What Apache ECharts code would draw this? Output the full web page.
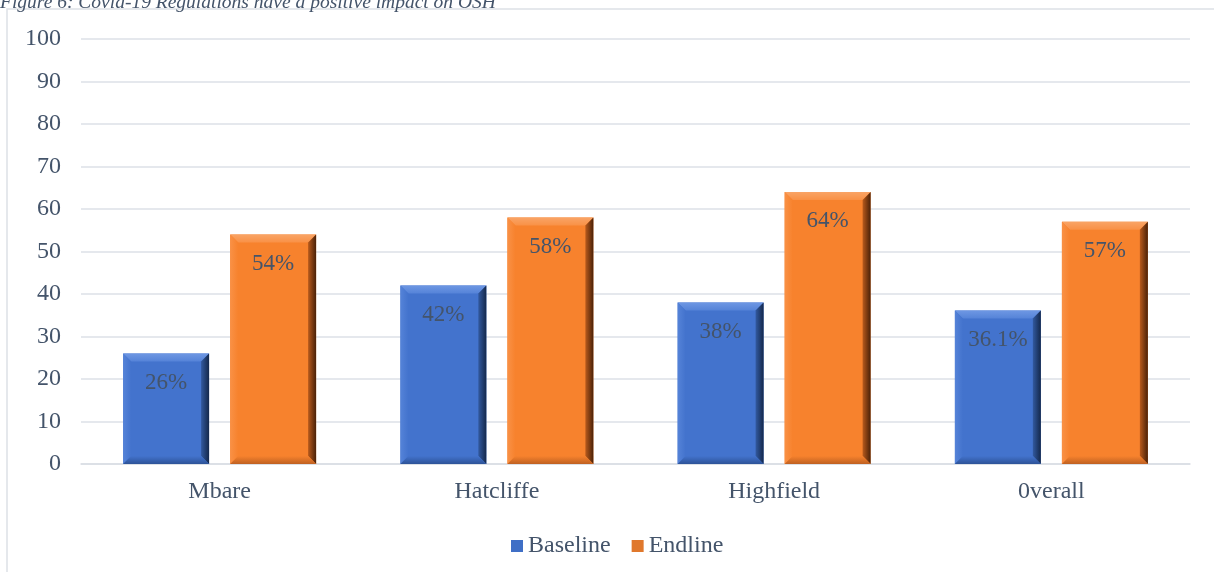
<!DOCTYPE html>
<html>
<head>
<meta charset="utf-8">
<script src="https://cdn.jsdelivr.net/npm/echarts@6/dist/echarts.min.js"></script>
<style>
  html, body { margin: 0; padding: 0; background: #ffffff; }
  #chart { width: 1214px; height: 572px; }
</style>
</head>
<body>
<div id="chart"></div>
<script>
// Survey areas and the share of respondents agreeing, per round
const categories = ['Mbare', 'Hatcliffe', 'Highfield', '0verall'];
const baseline = [26, 42, 38, 36.1];
const endline = [54, 58, 64, 57];
const seriesNames = ['Baseline', 'Endline'];
const titleText = 'Figure 6: Covid-19 Regulations have a positive impact on OSH';

const FONT = '"Liberation Serif", "Times New Roman", serif';
const TEXT_COLOR = '#44546a';

// Face colours for the bevelled bars: main, top, left, right (light, dark), bottom
const palettes = [
  { main: '#4373cd', top: '#6e97e3', left: '#5583d8', rightA: '#32599f', rightB: '#14284b', bottom: '#2d5398' },
  { main: '#f7822d', top: '#f9a466', left: '#f99146', rightA: '#b85a1c', rightB: '#4a2108', bottom: '#bf6122' }
];

function bevelBar(params, api) {
  const si = params.seriesIndex;
  const pal = palettes[si];
  const cat = api.value(0);
  const val = api.value(1);
  const topPt = api.coord([cat, val]);
  const basePt = api.coord([cat, 0]);
  const band = api.size([1, 0])[0];
  const w = band * 0.31;
  const off = (si === 0 ? -1 : 1) * band * 0.193;
  const x0 = topPt[0] + off - w / 2;
  const x1 = x0 + w;
  const y0 = topPt[1];
  const y1 = basePt[1];
  const b = 8;
  const grad = (x, y, x2, y2, a, c) => new echarts.graphic.LinearGradient(x, y, x2, y2, [
    { offset: 0, color: a }, { offset: 1, color: c }
  ]);
  return {
    type: 'group',
    children: [
      { type: 'rect', shape: { x: x0, y: y0, width: w, height: y1 - y0 },
        style: { fill: pal.main } },
      { type: 'polygon', shape: { points: [[x0, y0], [x1, y0], [x1 - b, y0 + b], [x0 + b, y0 + b]] },
        style: { fill: grad(0, 0, 0, 1, pal.top, pal.left) } },
      { type: 'polygon', shape: { points: [[x0, y0], [x0 + b, y0 + b], [x0 + b, y1 - b], [x0, y1]] },
        style: { fill: grad(0, 0, 1, 0, pal.left, pal.main) } },
      { type: 'polygon', shape: { points: [[x1, y0], [x1, y1], [x1 - b, y1 - b], [x1 - b, y0 + b]] },
        style: { fill: grad(0, 0, 1, 0, pal.rightA, pal.rightB) } },
      { type: 'polygon', shape: { points: [[x0, y1], [x1, y1], [x1 - b, y1 - b], [x0 + b, y1 - b]] },
        style: { fill: grad(0, 0, 0, 1, pal.main, pal.bottom) } },
      { type: 'text', x: (x0 + x1) / 2, y: y0 + 29,
        style: { text: val + '%', font: '23px ' + FONT, fill: TEXT_COLOR,
                 align: 'center', verticalAlign: 'middle' } }
    ]
  };
}

const chart = echarts.init(document.getElementById('chart'), null, { renderer: 'canvas' });

chart.setOption({
  backgroundColor: '#ffffff',
  animation: false,
  textStyle: { fontFamily: FONT },
  graphic: [
    { type: 'rect', z: -1,
      shape: { x: 7, y: 9, width: 1240, height: 620 },
      style: { fill: 'none', stroke: '#dde1e6', lineWidth: 1.5 } },
    { type: 'text', x: 0, y: 2.5,
      style: { text: titleText, font: 'italic 19.5px ' + FONT, fill: TEXT_COLOR,
               verticalAlign: 'middle' } }
  ],
  grid: { left: 81, right: 24, top: 39, bottom: 108 },
  legend: {
    data: seriesNames,
    top: 529,
    left: 506,
    icon: 'rect',
    itemWidth: 12,
    itemHeight: 12,
    itemGap: 21,
    textStyle: { fontFamily: FONT, fontSize: 24, color: TEXT_COLOR }
  },
  xAxis: {
    type: 'category',
    data: categories,
    axisLine: { lineStyle: { color: '#d9dde3', width: 1.5 } },
    axisTick: { show: false },
    axisLabel: { fontFamily: FONT, fontSize: 24, color: TEXT_COLOR, margin: 16 }
  },
  yAxis: {
    type: 'value',
    min: 0,
    max: 100,
    interval: 10,
    axisLine: { show: false },
    axisTick: { show: false },
    splitLine: { lineStyle: { color: '#dde1e7', width: 1.5 } },
    axisLabel: { fontFamily: FONT, fontSize: 24, color: TEXT_COLOR, margin: 20 }
  },
  series: [
    { name: seriesNames[0], type: 'custom', renderItem: bevelBar,
      itemStyle: { color: '#3f6fc6' },
      encode: { x: 0, y: 1 },
      data: baseline.map((v, i) => [i, v]) },
    { name: seriesNames[1], type: 'custom', renderItem: bevelBar,
      itemStyle: { color: '#e0782c' },
      encode: { x: 0, y: 1 },
      data: endline.map((v, i) => [i, v]) }
  ]
});
</script>
</body>
</html>
